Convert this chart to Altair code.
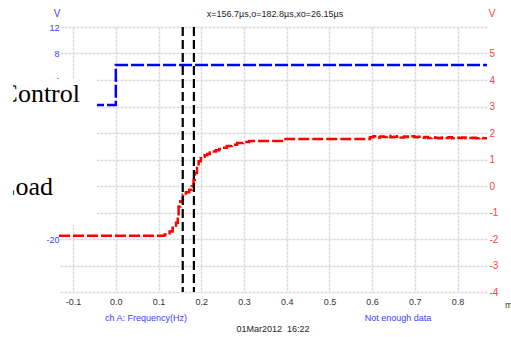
import altair as alt
import pandas as pd

# ---- data ----
x_ticks = [-0.1, 0.0, 0.1, 0.2, 0.3, 0.4, 0.5, 0.6, 0.7, 0.8]
left_ticks = [12, 8, 4, 0, -4, -8, -12, -16, -20]
right_ticks = [-4, -3, -2, -1, 0, 1, 2, 3, 4, 5, 6]

red_t = [-0.133, 0.114, 0.126, 0.133, 0.141, 0.145, 0.147, 0.151, 0.157, 0.164,
         0.172, 0.178, 0.182, 0.185, 0.190, 0.194, 0.199, 0.203, 0.208, 0.214,
         0.220, 0.226, 0.234, 0.242, 0.250, 0.260, 0.272, 0.284, 0.298, 0.312,
         0.393,
         0.595, 0.603, 0.611, 0.619, 0.627, 0.635, 0.643, 0.651, 0.659, 0.667,
         0.675, 0.683, 0.691, 0.699, 0.707, 0.715, 0.723, 0.731, 0.739, 0.747,
         0.755, 0.763, 0.771, 0.779, 0.787, 0.795, 0.803, 0.811, 0.819, 0.827,
         0.835, 0.843, 0.851, 0.859, 0.869]
red_v = [-1.88, -1.83, -1.72, -1.58, -1.39, -1.15, -0.77, -0.58, -0.33, -0.24,
         -0.14, -0.01, 0.24, 0.49, 0.68, 0.93, 1.05, 1.10, 1.16, 1.21,
         1.26, 1.30, 1.35, 1.40, 1.44, 1.51, 1.56, 1.62, 1.66, 1.70,
         1.77,
         1.84, 1.88, 1.83, 1.87, 1.85, 1.89, 1.84, 1.86, 1.88, 1.83,
         1.87, 1.85, 1.88, 1.84, 1.86, 1.82, 1.85, 1.81, 1.84, 1.82,
         1.80, 1.83, 1.81, 1.84, 1.80, 1.82, 1.81, 1.83, 1.80, 1.81,
         1.82, 1.80, 1.81, 1.80, 1.80]

blue_t = [-0.133, 0.0, 0.869]
blue_v = [0.23, 6.26, 6.26]

cursor_t = [0.1567, 0.1828]

title_text = "x=156.7\u00b5s,o=182.8\u00b5s,xo=26.15\u00b5s"

# ---- chart ----
W, H = 428, 265
FONT = "Liberation Sans"
GRID = "#dadada"
minus_fix = "replace(datum.label, '\u2212', '-')"

xscale = alt.Scale(domain=[-0.133, 0.869], nice=False, zero=False)
xaxis = alt.Axis(values=x_ticks, labelExpr=minus_fix, format=".1f", grid=True,
                 gridColor=GRID, gridDash=[3, 1], gridWidth=1.5, ticks=False,
                 domain=False, labelColor="#333333", labelFontSize=9,
                 labelFont=FONT, labelPadding=5, title=None)

red_df = pd.DataFrame({"t": red_t, "v": red_v})
blue_df = pd.DataFrame({"t": blue_t, "v": blue_v})
cur_df = pd.DataFrame({"t": cursor_t})
one = pd.DataFrame({"a": [0]})

blue = alt.Chart(blue_df).mark_line(
    color="#0000ff", strokeWidth=2.5, strokeDash=[13, 3], interpolate="step-after"
).encode(
    x=alt.X("t:Q", scale=xscale, axis=xaxis),
    y=alt.Y("v:Q", scale=alt.Scale(domain=[-28, 12], nice=False, zero=False),
            axis=alt.Axis(orient="left", values=left_ticks, labelExpr=minus_fix,
                          grid=False, ticks=False, domain=False,
                          labelColor="#3c3cff", labelFontSize=9, labelFont=FONT,
                          labelPadding=0, title=None)),
)

red = alt.Chart(red_df).mark_line(
    color="#ff0000", strokeWidth=2.5, strokeDash=[11, 3], interpolate="step-after"
).encode(
    x=alt.X("t:Q", scale=xscale, axis=xaxis),
    y=alt.Y("v:Q", scale=alt.Scale(domain=[-4, 6], nice=False, zero=False),
            axis=alt.Axis(orient="right", values=right_ticks,
                          labelExpr="datum.value == 6 ? '' : " + minus_fix,
                          grid=True, gridColor=GRID, gridDash=[3, 1], gridWidth=1.5,
                          ticks=False, domain=False, labelColor="#ff4040",
                          labelFontSize=10, labelFont=FONT, labelPadding=2,
                          title=None)),
)

cursors = alt.Chart(cur_df).mark_rule(
    color="black", strokeWidth=2.2, strokeDash=[9, 4]
).encode(x=alt.X("t:Q", scale=xscale, axis=xaxis))

cover = alt.Chart(one).mark_rect(color="white").encode(
    x=alt.value(-70), x2=alt.value(38), y=alt.value(52), y2=alt.value(198))

def label(text, x, y, size=9, color="#333333", align="center", font=FONT,
          baseline="middle"):
    return alt.Chart(one).mark_text(
        text=text, fontSize=size, color=color, align=align, font=font,
        baseline=baseline
    ).encode(x=alt.value(x), y=alt.value(y))

control = label("Control", 21, 74.7, size=26, color="black", align="right",
                font="Liberation Serif", baseline="alphabetic")
load = label("Load", -6, 168, size=26, color="black", align="right",
             font="Liberation Serif", baseline="alphabetic")

clip = alt.Chart(one).mark_rect(color="white").encode(
    x=alt.value(-75), x2=alt.value(-46), y=alt.value(40), y2=alt.value(200))

top_title = label(title_text, 216, -13, size=9, color="#222222")
v_left = label("V", -2, -13, size=10, color="#3c3cff")
v_right = label("V", 433, -13, size=10, color="#ff4040")
ch_a = label("ch A: Frequency(Hz)", 87, 291, size=9, color="#3c3cff")
not_enough = label("Not enough data", 339, 291, size=9, color="#3c3cff")
date_txt = label("01Mar2012\u00a0\u00a016:22", 214, 302, size=9, color="#222222")
ms_txt = label("ms", 446, 278, size=9, color="#333333", align="left")

chart = alt.layer(
    blue, red, cursors, cover, control, load, clip,
    top_title, v_left, v_right, ch_a, not_enough, date_txt, ms_txt
).resolve_scale(y="independent").properties(
    width=W, height=H,
    autosize=alt.AutoSizeParams(type="none"),
    padding={"left": 59, "top": 27, "right": 24, "bottom": 45},
    background="white",
).configure_view(stroke=None)

chart.save("out.html", embed_options={"renderer": "svg", "actions": False})
